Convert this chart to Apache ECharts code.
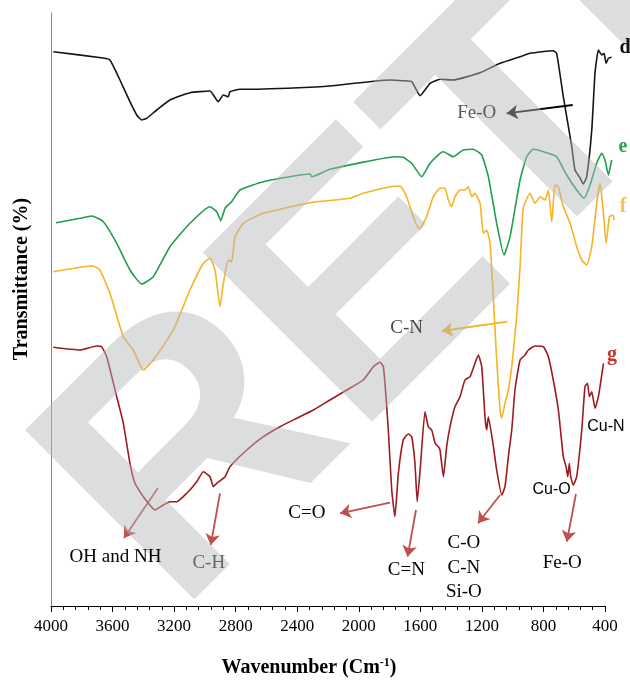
<!DOCTYPE html>
<html><head><meta charset="utf-8">
<script src="https://cdn.jsdelivr.net/npm/echarts@6/dist/echarts.min.js"></script>
<style>html,body{margin:0;padding:0;background:#fff}#c{width:630px;height:683px}</style>
</head><body><div id="c"></div>
<script>
// ---- data (wavenumber cm-1, relative transmittance) ----
const waveD=[3985,3662,3617,3552,3487,3443,3411,3378,3313,3227,3097,2967,2913,2880,2848,2837,2772,2707,2317,2187,1797,1713,1656,1602,1537,1472,1388,1212,1082,952,887,736,714,671,616,595,562,541,519,486,465,443,421,406,393,378,357];
const transD=[554.3,548,546,526,504.3,491,486,487.7,496,506,513.3,515,504.3,511,509.3,514.3,516.7,516.7,518.7,520,526,525.3,524.3,510.3,522.7,526.7,526,533.3,542.7,549.3,552.7,555.3,552.7,509.3,459.3,436,428,422,429.3,476,532.7,556,551,552.7,542.7,547.7,548.7];
const waveE=[3968,3812,3736,3660,3573,3487,3411,3335,3227,3097,2967,2923,2897,2869,2837,2826,2772,2620,2317,2306,2187,1754,1711,1656,1591,1537,1472,1451,1386,1321,1256,1201,1158,1104,1056,1017,952,909,866,779,714,649,584,536,497,454,421,400,378,357];
const transE=[383.3,387.7,390,384.3,362.7,336,322,329.3,359.3,382.7,399.3,394.3,385.3,397.7,402.7,404.3,416,424.3,432,429.3,436.7,449.3,448.7,442.7,429.3,442.7,452.7,454.3,449.3,456,456.7,451,429.3,382.7,351,369.3,426,449.3,456.7,453.3,449.3,431,416,407.7,421,442.7,452.7,446,431,446];
const waveF=[3985,3812,3725,3682,3617,3530,3465,3400,3335,3205,3097,3010,2967,2934,2902,2880,2848,2826,2804,2750,2620,2317,2057,1971,1797,1732,1689,1646,1607,1559,1516,1472,1440,1418,1396,1375,1342,1310,1288,1266,1245,1212,1190,1169,1147,1126,1104,1082,1071,1050,1028,1006,974,952,931,887,855,822,790,768,746,725,703,671,627,584,551,519,486,454,432,410,393,371,349,340];
const transF=[334.3,338.7,340,336,312.7,269.3,256,236,246,276,316,342.7,347.7,336,299.3,322.7,346,344.3,369.3,382.7,392.7,403.3,407.7,412.7,419.3,420,409.3,389.3,376.7,389.3,409.3,417.7,417.7,406,399.3,409.3,416,416,419.3,409.3,412.7,402.7,372.7,376,362.7,309.3,246,196,187.7,202.7,216,239.3,289.3,339.3,398,412.7,402.7,409.3,406,416,384.3,421,419.3,399.3,382.7,359.3,346,341,359.3,402.7,422.7,392.7,362.7,389.3,391,386];
const waveG=[3985,3812,3703,3671,3638,3573,3530,3487,3454,3400,3324,3270,3227,3183,3118,3053,3010,2967,2945,2923,2869,2837,2728,2620,2512,2403,2295,2187,2078,1971,1905,1862,1840,1808,1786,1765,1743,1711,1678,1656,1635,1620,1598,1570,1548,1526,1504,1483,1472,1450,1429,1407,1375,1342,1310,1277,1245,1223,1201,1180,1169,1158,1125,1104,1071,1050,1028,1006,985,952,920,898,855,801,768,736,703,671,653,642,632,623,606,584,551,530,514,501,486,465,443,410];
const transG=[258.7,256,260,259.3,249.3,209.3,182.7,142.7,122.7,109.3,96,101,104.3,104.3,112.7,124.3,134.3,129.3,119.3,122.7,129.3,139.3,156,169.3,179.3,187.7,196,206,216,226,239.3,243.7,239.3,176,116,89.3,132.7,166,172,169.3,142.7,104.3,142.7,194.3,179.3,176,162.7,159.3,156,129.3,159.3,179.3,199.3,209.3,226,229.3,242.7,251,239.3,189.3,176,189.3,159.3,136,111,119.3,149.3,176,216,246,251,256,260,259.3,249.3,226,196,149.3,139.3,129.3,142.7,129.3,121,129.3,176,219.3,222.7,209.3,214.3,197.7,209.3,242.7];
const xTicks=[4000,3600,3200,2800,2400,2000,1600,1200,800,400];
const seriesNames=['d','e','f','g'];
// annotation arrows: [from, to] in (wavenumber, transmittance)
const arrowsD=[[[610,501],[1039,492.7]]];
const arrowsF=[[[1035,284.3],[1461,275]]];
const arrowsG=[[[3305,118],[3526,68]],[[2902,112.7],[2962,61]],[[1797,103.3],[2122,92.7]],[[1628,96],[1683,49.3]],[[1082,111],[1225,82.7]],[[589,112],[648,64.3]]];
// annotation texts: [text, wavenumber, transmittance, colour]
const notes=[['Fe-O',1234,492.7,'#5a5a5a'],['C-N',1689,277.7,'#4a4a4a'],['OH and NH',3581,49.3,'#000'],['C-H',2975,42.7,'#666'],['C=O',2337,93,'#000'],['C=N',1691,36,'#000'],['C-O',1317,62.7,'#000'],['C-N',1317,37.7,'#000'],['Si-O',1317,14.3,'#000'],['Fe-O',678,42.7,'#000']];
const notesSans=[['Cu-O',747,116],['Cu-N',394,179.3]];
const seriesLabels=[['d',270,558,'#111'],['e',283,459,'#27a353'],['f',283,399,'#efc45e'],['g',355,251,'#c0392b']];

const COLORS=['#151515','#1f9e4b','#f6b322','#9c1a20'];
const RED='#c0504d';
const zip=(w,v)=>w.map((x,i)=>[x,v[i]]);
const ml=(arr,color)=>({silent:true,animation:false,symbol:['none','arrow'],symbolSize:11,label:{show:false},
  lineStyle:{color,width:1.8,type:'solid'},data:arr.map(a=>[{coord:a[0]},{coord:a[1]}])});

const chart=echarts.init(document.getElementById('c'),null,{renderer:'canvas'});
const datas=[zip(waveD,transD),zip(waveE,transE),zip(waveF,transF),zip(waveG,transG)];
const marks=[ml(arrowsD,'#000'),null,ml(arrowsF,'#f6b322'),ml(arrowsG,RED)];
// visible grid: 4000..400 over 554 px; plotting grid uses the same scale but reaches 320 so
// the spectra can run slightly past the 400 end of the axis, as in the original.
const PXW=554/3600;
const right2=630-51-(4000-320)*PXW;
chart.setOption({
  animation:false,
  grid:[{left:51,right:25,top:13,bottom:77,containLabel:false},
        {left:51,right:right2,top:13,bottom:77,containLabel:false}],
  xAxis:[{type:'value',gridIndex:0,inverse:true,min:400,max:4000,interval:400,
    axisLine:{lineStyle:{color:'#000',width:1}},
    axisTick:{show:true,length:6,lineStyle:{color:'#000'}},
    minorTick:{show:true,splitNumber:5,length:4,lineStyle:{color:'#000'}},
    axisLabel:{color:'#000',fontFamily:'Liberation Serif',fontSize:17,margin:12,
      formatter:v=>xTicks.includes(v)?String(v):''},
    splitLine:{show:false},minorSplitLine:{show:false}},
    {type:'value',gridIndex:1,inverse:true,min:320,max:4000,show:false,splitLine:{show:false}}],
  yAxis:[{type:'value',gridIndex:0,min:0,max:593,axisLine:{show:true,lineStyle:{color:'#888'}},
    axisTick:{show:false},axisLabel:{show:false},splitLine:{show:false}},
    {type:'value',gridIndex:1,min:0,max:593,show:false,splitLine:{show:false}}],
  series:datas.map((d,i)=>{
    const s={name:seriesNames[i],type:'line',xAxisIndex:1,yAxisIndex:1,data:d,showSymbol:false,symbol:'none',clip:false,
      smooth:0.15,lineStyle:{color:COLORS[i],width:1.6},itemStyle:{color:COLORS[i]},z:2+i};
    if(marks[i]) s.markLine=marks[i];
    return s;
  })
});

const px=(w,v)=>chart.convertToPixel({xAxisIndex:1,yAxisIndex:1},[w,v]);
const g=[];
notes.forEach(n=>{const p=px(n[1],n[2]);g.push({type:'text',x:p[0],y:p[1],z:110,style:{text:n[0],fill:n[3],
  font:'19px "Liberation Serif"',textAlign:'center',textVerticalAlign:'middle',align:'center',verticalAlign:'middle'}});});
notesSans.forEach(n=>{const p=px(n[1],n[2]);g.push({type:'text',x:p[0],y:p[1],z:110,style:{text:n[0],fill:'#000',
  font:'16px "Liberation Sans"',textAlign:'center',textVerticalAlign:'middle',align:'center',verticalAlign:'middle'}});});
seriesLabels.forEach(n=>{const p=px(n[1],n[2]);g.push({type:'text',x:p[0],y:p[1],z:110,style:{text:n[0],fill:n[3],
  font:'bold 20px "Liberation Serif"',textAlign:'center',textVerticalAlign:'middle',align:'center',verticalAlign:'middle'}});});
// axis titles
g.push({type:'text',x:309,y:668,z:110,style:{text:'{b|Wavenumber (Cm}{s|-1}{b|)}',textAlign:'center',textVerticalAlign:'middle',align:'center',verticalAlign:'middle',
  rich:{b:{fontFamily:'Liberation Serif',fontWeight:'bold',fontSize:20,fill:'#000',color:'#000'},
        s:{fontFamily:'Liberation Serif',fontWeight:'bold',fontSize:12,fill:'#000',color:'#000',padding:[0,0,10,0]}}}});
g.push({type:'text',x:22,y:279,rotation:Math.PI/2,z:110,style:{text:'Transmittance (%)',fill:'#000',
  font:'bold 20px "Liberation Serif"',textAlign:'center',textVerticalAlign:'middle',align:'center',verticalAlign:'middle'}});
// retraction watermark (drawn over the spectra, under the labels)
g.push({type:'text',x:110,y:548,rotation:Math.PI/4,z:100,silent:true,style:{text:'RETRACTED',fill:'rgba(181,182,186,0.47)',
  font:'bold 348px "Liberation Sans"',textAlign:'left',textVerticalAlign:'middle',align:'left',verticalAlign:'middle'}});
chart.setOption({graphic:g});
</script></body></html>
